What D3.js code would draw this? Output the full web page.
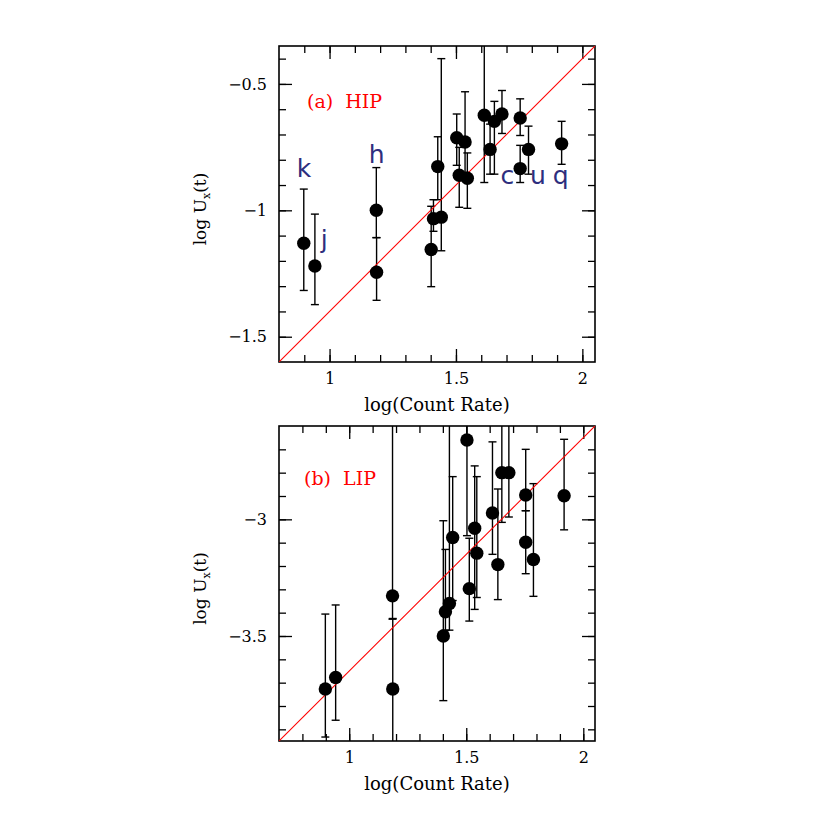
<!DOCTYPE html>
<html>
<head>
<meta charset="utf-8">
<script src="https://cdn.jsdelivr.net/npm/d3@7"></script>
<style>
  html, body { margin: 0; padding: 0; background: #fff; }
  svg { display: block; }
  .tick text { font-family: "DejaVu Serif", serif; font-size: 16px; fill: #000; }
</style>
</head>
<body>
<svg id="chart" width="830" height="830"></svg>
<script>
// ---------------- data ----------------
const countRate = [0.898, 0.942, 1.185, 1.186, 1.402, 1.411, 1.428, 1.442, 1.503, 1.513,
                   1.536, 1.545, 1.612, 1.635, 1.652, 1.682, 1.754, 1.754, 1.787, 1.918];

const hipY    = [-1.13, -1.22, -1.00, -1.245, -1.155, -1.033, -0.827, -1.027, -0.713, -0.861,
                 -0.730, -0.873, -0.624, -0.759, -0.648, -0.619, -0.635, -0.835, -0.759, -0.737];
const hipUp   = [0.214, 0.205, 0.169, 0.137, 0.171, 0.075, 0.118, 0.627, 0.094, 0.110,
                 0.199, 0.100, 0.400, 0.100, 0.079, 0.093, 0.076, 0.092, 0.092, 0.089];
const hipDown = [0.187, 0.153, 0.108, 0.111, 0.147, 0.050, 0.131, 0.133, 0.109, 0.127,
                 0.120, 0.119, 0.266, 0.098, 0.209, 0.077, 0.069, 0.055, 0.098, 0.081];

const lipY    = [-3.727, -3.678, -3.328, -3.727, -3.50, -3.396, -3.361, -3.078, -2.66, -3.297,
                 -3.038, -3.145, -2.973, -3.194, -2.80, -2.80, -2.896, -3.098, -3.172, -2.899];
const lipUp   = [0.321, 0.311, 0.900, 0.302, 0.494, 0.267, 0.900, 0.261, 0.300, 0.216,
                 0.267, 0.328, 0.305, 0.324, 0.500, 0.500, 0.196, 0.135, 0.325, 0.242];
const lipDown = [0.206, 0.183, 0.100, 0.400, 0.277, 0.079, 0.114, 0.270, 0.410, 0.139,
                 0.348, 0.190, 0.177, 0.150, 0.213, 0.190, 0.067, 0.135, 0.158, 0.146];

// source labels (panel a), in data coordinates
const srcLabels = ["k", "h", "j", "c", "u", "q"];
const srcLabelX = [0.899, 1.186, 0.979, 1.703, 1.824, 1.914];
const srcLabelY = [-0.867, -0.814, -1.149, -0.897, -0.897, -0.897];

// axes
const xTicksMajor = [1, 1.5, 2];
const hipYTicks = [-0.5, -1, -1.5];
const lipYTicks = [-3, -3.5];
const hipDomainX = [0.8, 2.05], hipDomainY = [-1.6, -0.35];
const lipDomainX = [0.7, 2.05], lipDomainY = [-3.95, -2.6];
const hipLine = -2.4;   // y = x + offset
const lipLine = -4.65;

// ---------------- drawing ----------------
const svg = d3.select("#chart");
const fmt = d3.format("~g");

function panel(opts) {
  const { left, right, top, bottom, dx, dy, yv, up, down, yTicks, line, title, titleX, titleY, id } = opts;
  const x = d3.scaleLinear().domain(dx).range([left, right]);
  const y = d3.scaleLinear().domain(dy).range([bottom, top]);
  const g = svg.append("g");

  g.append("clipPath").attr("id", id).append("rect")
    .attr("x", left).attr("y", top).attr("width", right - left).attr("height", bottom - top);

  const minorX = d3.range(Math.ceil(dx[0] * 10 + 1e-9), Math.floor(dx[1] * 10 - 1e-9) + 1).map(v => v / 10)
    .filter(v => v > dx[0] + 1e-6 && v < dx[1] - 1e-6);
  const minorY = d3.range(Math.ceil(dy[0] * 10 + 1e-9), Math.floor(dy[1] * 10 - 1e-9) + 1).map(v => v / 10)
    .filter(v => v > dy[0] + 1e-6 && v < dy[1] - 1e-6);

  const majL = 13, minL = 7;
  g.append("g").attr("transform", `translate(0,${bottom})`)
    .call(d3.axisBottom(x).tickValues(minorX).tickSizeInner(-minL).tickSizeOuter(0).tickFormat(""));
  g.append("g").attr("transform", `translate(0,${bottom})`)
    .call(d3.axisBottom(x).tickValues(xTicksMajor).tickSizeInner(-majL).tickSizeOuter(0).tickPadding(11).tickFormat(fmt));
  g.append("g").attr("transform", `translate(0,${top})`)
    .call(d3.axisTop(x).tickValues(minorX).tickSizeInner(-minL).tickSizeOuter(0).tickFormat(""));
  g.append("g").attr("transform", `translate(0,${top})`)
    .call(d3.axisTop(x).tickValues(xTicksMajor).tickSizeInner(-majL).tickSizeOuter(0).tickFormat(""));
  g.append("g").attr("transform", `translate(${left},0)`)
    .call(d3.axisLeft(y).tickValues(minorY).tickSizeInner(-minL).tickSizeOuter(0).tickFormat(""));
  g.append("g").attr("transform", `translate(${left},0)`)
    .call(d3.axisLeft(y).tickValues(yTicks).tickSizeInner(-majL).tickSizeOuter(0).tickPadding(12).tickFormat(fmt));
  g.append("g").attr("transform", `translate(${right},0)`)
    .call(d3.axisRight(y).tickValues(minorY).tickSizeInner(-minL).tickSizeOuter(0).tickFormat(""));
  g.append("g").attr("transform", `translate(${right},0)`)
    .call(d3.axisRight(y).tickValues(yTicks).tickSizeInner(-majL).tickSizeOuter(0).tickFormat(""));

  g.selectAll(".domain").remove();
  g.selectAll(".tick line").attr("stroke", "#000").attr("stroke-width", 1.3);

  g.append("rect").attr("x", left).attr("y", top).attr("width", right - left).attr("height", bottom - top)
    .attr("fill", "none").attr("stroke", "#000").attr("stroke-width", 1.6);

  const plot = g.append("g").attr("clip-path", `url(#${id})`);

  const pts = countRate.map((c, i) => ({ x: c, y: yv[i], hi: yv[i] + up[i], lo: yv[i] - down[i] }));
  const cap = 4;
  const eb = plot.append("g").attr("stroke", "#000").attr("stroke-width", 1.4);
  eb.selectAll("line.v").data(pts).join("line").attr("class", "v")
    .attr("x1", d => x(d.x)).attr("x2", d => x(d.x))
    .attr("y1", d => y(d.hi)).attr("y2", d => y(d.lo));
  eb.selectAll("line.ch").data(pts).join("line").attr("class", "ch")
    .attr("x1", d => x(d.x) - cap).attr("x2", d => x(d.x) + cap)
    .attr("y1", d => y(d.hi)).attr("y2", d => y(d.hi));
  eb.selectAll("line.cl").data(pts).join("line").attr("class", "cl")
    .attr("x1", d => x(d.x) - cap).attr("x2", d => x(d.x) + cap)
    .attr("y1", d => y(d.lo)).attr("y2", d => y(d.lo));

  // red 1:1 line
  plot.append("line")
    .attr("x1", x(dx[0])).attr("y1", y(dx[0] + line))
    .attr("x2", x(dx[1])).attr("y2", y(dx[1] + line))
    .attr("stroke", "#ff0000").attr("stroke-width", 1.1);

  plot.append("g").selectAll("circle").data(pts).join("circle")
    .attr("cx", d => x(d.x)).attr("cy", d => y(d.y)).attr("r", 6.7).attr("fill", "#000");

  g.append("text").attr("x", left + titleX).attr("y", top + titleY)
    .attr("xml:space", "preserve").style("white-space", "pre")
    .attr("font-family", "DejaVu Serif, serif").attr("font-size", 19).attr("fill", "#ff0000")
    .text(title);

  g.append("text").attr("x", (left + right) / 2).attr("y", bottom + 49)
    .attr("text-anchor", "middle").attr("font-family", "DejaVu Serif, serif").attr("font-size", 18)
    .attr("fill", "#000").text("log(Count Rate)");

  const yl = g.append("text")
    .attr("transform", `translate(${left - 73},${(top + bottom) / 2 + 5}) rotate(-90)`)
    .attr("text-anchor", "middle").attr("font-family", "DejaVu Serif, serif").attr("font-size", 17)
    .attr("fill", "#000");
  yl.append("tspan").text("log U");
  yl.append("tspan").attr("font-size", 11).attr("dy", 4).text("x");
  yl.append("tspan").attr("dy", -4).text("(t)");

  return { g, x, y };
}

const a = panel({ id: "clipA", left: 279, right: 595, top: 46, bottom: 362,
  dx: hipDomainX, dy: hipDomainY, yv: hipY, up: hipUp, down: hipDown, yTicks: hipYTicks,
  line: hipLine, title: "(a)  HIP", titleX: 28, titleY: 62 });

const b = panel({ id: "clipB", left: 279, right: 595, top: 426, bottom: 741,
  dx: lipDomainX, dy: lipDomainY, yv: lipY, up: lipUp, down: lipDown, yTicks: lipYTicks,
  line: lipLine, title: "(b)  LIP", titleX: 25, titleY: 59 });

a.g.append("g").selectAll("text").data(srcLabels).join("text")
  .attr("x", (d, i) => a.x(srcLabelX[i])).attr("y", (d, i) => a.y(srcLabelY[i]))
  .attr("text-anchor", "middle")
  .attr("font-family", "DejaVu Sans, sans-serif").attr("font-size", 25)
  .attr("fill", "#2e2e7e").text(d => d);
</script>
</body>
</html>
